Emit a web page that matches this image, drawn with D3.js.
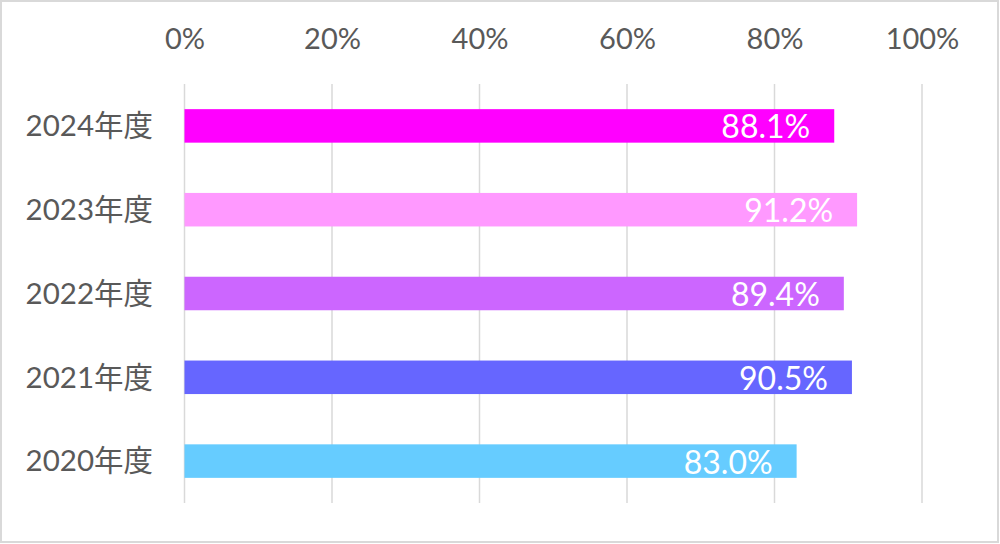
<!DOCTYPE html>
<html>
<head>
<meta charset="utf-8">
<script src="https://cdn.jsdelivr.net/npm/d3@7"></script>
<style>
html,body{margin:0;padding:0;background:#fff;}
svg{display:block;}
text{font-family:Lato,"Noto Sans CJK JP",sans-serif;}
</style>
</head>
<body>
<svg id="chart" width="1000" height="544"></svg>
<script>
const categories = ["2024年度","2023年度","2022年度","2021年度","2020年度"];
const values = [88.1, 91.2, 89.4, 90.5, 83.0];
const colors = ["#FF00FF","#FF99FF","#CC66FF","#6666FF","#66CCFF"];
const tickValues = [0,20,40,60,80,100];

const svg = d3.select("#chart");
svg.append("rect").attr("x",1).attr("y",1).attr("width",997).attr("height",541)
  .attr("fill","#fff").attr("stroke","#d9d9d9").attr("stroke-width",2);

const x = d3.scaleLinear().domain([0,100]).range([184.5,922]);
const y = d3.scaleBand().domain(categories).range([84,503]).paddingInner(0.6).paddingOuter(0.3);

// gridlines
svg.append("g").selectAll("line").data(tickValues).join("line")
  .attr("x1",d=>x(d)).attr("x2",d=>x(d)).attr("y1",84).attr("y2",503)
  .attr("stroke","#d9d9d9").attr("stroke-width",1.5);

// top axis labels
const xAxis = d3.axisTop(x).tickValues(tickValues).tickFormat(d=>d+"%").tickSize(0);
const gx = svg.append("g").attr("transform","translate(0,52)").call(xAxis);
gx.select(".domain").remove();
gx.selectAll("text").attr("fill","#595959").attr("font-size",29).attr("dy",0)
  .style("font-family",'Lato,"Noto Sans CJK JP",sans-serif');

// left axis labels
const yAxis = d3.axisLeft(y).tickSize(0);
const gy = svg.append("g").attr("transform","translate(153,0)").call(yAxis);
gy.select(".domain").remove();
gy.selectAll("text").attr("fill","#595959").attr("font-size",29.5).attr("x",0).attr("dy","0.35em")
  .style("font-family",'Lato,"Noto Sans CJK JP",sans-serif');

// bars
svg.append("g").selectAll("rect").data(categories).join("rect")
  .attr("x",x(0)).attr("y",d=>y(d))
  .attr("width",(d,i)=>x(values[i])-x(0)).attr("height",y.bandwidth())
  .attr("fill",(d,i)=>colors[i]);

// value labels
svg.append("g").selectAll("text").data(categories).join("text")
  .attr("x",(d,i)=>x(values[i])-24)
  .attr("y",d=>y(d)+y.bandwidth()/2+12.5)
  .attr("text-anchor","end").attr("fill","#fff").attr("font-size",32)
  .text((d,i)=>values[i].toFixed(1)+"%");
</script>
</body>
</html>
